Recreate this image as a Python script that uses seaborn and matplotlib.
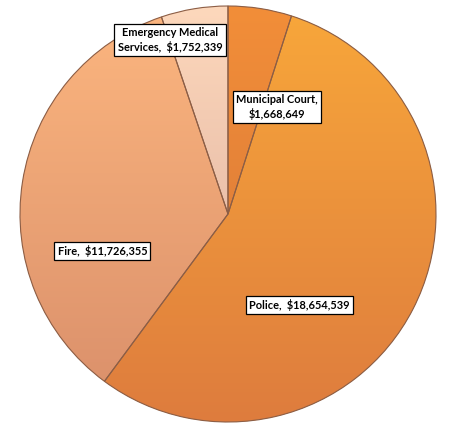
"""Public safety budget pie chart with shaded slices."""

import matplotlib

matplotlib.use("Agg")
import matplotlib.pyplot as plt
import numpy as np
import seaborn as sns
from matplotlib.colors import ListedColormap
from matplotlib.patches import Wedge

departments = ["Municipal Court", "Police", "Fire", "Emergency Medical\nServices"]
budgets = [1668649, 18654539, 11726355, 1752339]

# top / bottom shade for each slice (vertical gradient)
top_colors = ["#F28E38", "#F8A73A", "#FCB67F", "#FDD8BC"]
bottom_colors = ["#D4743A", "#DE7C3E", "#D98E6A", "#D8A898"]

# label box centres in axes fraction
label_pos = [(0.606, 0.751), (0.655, 0.291), (0.224, 0.416), (0.372, 0.907)]

sns.set_style("white")
plt.rcParams["font.family"] = ["Lato", "DejaVu Sans"]

fig = plt.figure(figsize=(4.57, 4.30), dpi=100)
ax = fig.add_axes([0, 0, 1, 1])

cx, cy, r = 228, 430 - 214, 208
wedges, _ = ax.pie(
    budgets,
    startangle=90,
    counterclock=False,
    center=(cx, cy),
    radius=r,
    colors=top_colors,
    wedgeprops={"edgecolor": "none"},
)

grad = np.linspace(0, 1, 256).reshape(-1, 1)
for wedge, c_top, c_bot in zip(wedges, top_colors, bottom_colors):
    cmap = ListedColormap(sns.blend_palette([c_bot, c_top], n_colors=256))
    img = ax.imshow(
        grad,
        cmap=cmap,
        origin="lower",
        extent=(cx - r, cx + r, cy - r, cy + r),
        aspect="auto",
        zorder=wedge.get_zorder() + 0.1,
    )
    img.set_clip_path(wedge)
    ax.add_patch(Wedge(
        wedge.center, wedge.r, wedge.theta1, wedge.theta2,
        facecolor="none", edgecolor="#8C5E46", linewidth=0.8, zorder=3,
    ))

for name, value, (x, y) in zip(departments, budgets, label_pos):
    if "\n" in name:
        first, second = name.split("\n")
        text = f"{first}\n{second},  ${value:,}"
    elif name == "Municipal Court":
        text = f"{name},\n${value:,}"
    else:
        text = f"{name},  ${value:,}"
    ax.text(
        x, y, text,
        transform=ax.transAxes,
        ha="center", va="center",
        fontsize=7.9, fontweight="bold", color="black",
        linespacing=1.25,
        bbox={"boxstyle": "square,pad=0.3", "facecolor": "white",
              "edgecolor": "black", "linewidth": 0.9},
        zorder=5,
    )

ax.set_xlim(0, 457)
ax.set_ylim(0, 430)
ax.set_aspect("equal")
ax.axis("off")

fig.savefig("out.png", dpi=100, facecolor="white")
